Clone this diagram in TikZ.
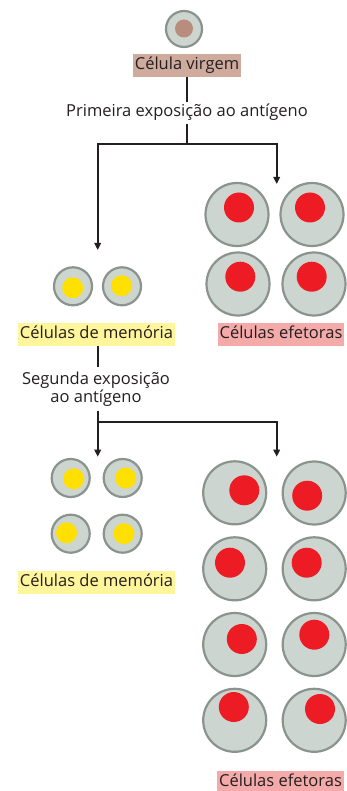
\documentclass[tikz,border=0pt]{standalone}
\usepackage{fontspec}
\setmainfont{Open Sans}
\usetikzlibrary{arrows.meta}
\definecolor{cFill}{HTML}{CDD5D0}
\definecolor{cLine}{HTML}{8A938E}
\definecolor{cRed}{HTML}{ED1C24}
\definecolor{cYel}{HTML}{FFE000}
\definecolor{cBrown}{HTML}{B98D7E}
\definecolor{cVirg}{HTML}{CFAB9D}
\definecolor{cMem}{HTML}{FFF59A}
\definecolor{cEff}{HTML}{F5AAAA}
\definecolor{cInk}{HTML}{231F20}
\begin{document}
\begin{tikzpicture}[x=1pt,y=-1pt,
  cellbody/.style={circle,draw=cLine,line width=2.2pt,fill=cFill,inner sep=0pt},
  bigcell/.style={cellbody,minimum size=63pt},
  smallcell/.style={cellbody,minimum size=38pt},
  topcell/.style={cellbody,minimum size=36pt},
  rednuc/.style={circle,fill=cRed,inner sep=0pt,minimum size=30pt},
  yelnuc/.style={circle,fill=cYel,inner sep=0pt,minimum size=21pt},
  brnuc/.style={circle,fill=cBrown,inner sep=0pt,minimum size=18pt},
  basetxt/.style={font=\fontsize{16.5}{18.3}\selectfont,text=cInk,inner xsep=2pt},
  txt/.style={basetxt,text height=12pt,text depth=4pt,inner ysep=2.5pt},
  lbl/.style={txt,inner xsep=2pt,inner ysep=3.5pt,minimum height=23pt},
  conn/.style={line width=1.9pt,draw=cInk},
  arr/.style={conn,-{Triangle[length=7pt,width=6.5pt]}}
]
\useasboundingbox (0,0) rectangle (347,791);

% top
\node[topcell] (c0) at (184,29) {};
\node[brnuc] (n0) at (184,28.5) {};
\node[lbl,fill=cVirg] (cv) at (187,65.5) {Célula virgem};
\node[txt] (t1) at (187,113) {Primeira exposição ao antígeno};
\coordinate (j1) at (187,144);
\coordinate (a1) at (97.7,250);
\coordinate (a2) at (276.7,184);
\draw[conn] (cv.south) -- (t1.north);
\draw[conn] (t1.south) -- (j1);
\draw[arr] (j1) -| (a1);
\draw[arr] (j1) -| (a2);

% first memory cells
\node[smallcell] (m1) at (73,286.3) {};
\node[yelnuc] at (72.7,287.8) {};
\node[smallcell] (m2) at (122,286.3) {};
\node[yelnuc] at (121.5,285.7) {};
\node[lbl,fill=cMem] (mem1) at (96.5,334.2) {Células de memória};

% first effector cells
\node[bigcell] (e1) at (237,214.5) {};
\node[rednuc] at (239,207.5) {};
\node[bigcell] (e2) at (312,214.5) {};
\node[rednuc] at (310,207.5) {};
\node[bigcell] (e3) at (238,284) {};
\node[rednuc] at (240.3,276.7) {};
\node[bigcell] (e4) at (314,284) {};
\node[rednuc] at (311.7,276.7) {};
\node[lbl,fill=cEff] (eff1) at (281,334.2) {Células efetoras};

% second exposure
\node[basetxt,align=center,minimum height=43pt,inner ysep=0pt] (t2) at (96,389) {Segunda exposição\\ao antígeno};
\coordinate (j2) at (97.7,422);
\coordinate (a3) at (97.7,456.7);
\coordinate (a4) at (276.7,456.7);
\draw[conn] (mem1.south -| j2) -- (t2.north -| j2);
\draw[conn] (t2.south -| j2) -- (j2);
\draw[arr] (j2) -- (a3);
\draw[arr] (j2) -| (a4);

% second memory cells
\node[smallcell] (m3) at (70.7,478) {};
\node[yelnuc] at (73.7,478.8) {};
\node[smallcell] (m4) at (122.7,478) {};
\node[yelnuc] at (125.7,478) {};
\node[smallcell] (m5) at (70.7,533.7) {};
\node[yelnuc] at (66.5,532.8) {};
\node[smallcell] (m6) at (122.7,533.7) {};
\node[yelnuc] at (124,533.7) {};
\node[lbl,fill=cMem] (mem2) at (96.5,582) {Células de memória};

% second effector cells
\node[bigcell] (e5) at (234.7,492.8) {};
\node[rednuc] at (244.3,490.3) {};
\node[bigcell] (e6) at (314.2,493) {};
\node[rednuc] at (307.2,495.7) {};
\node[bigcell] (e7) at (234.7,568.8) {};
\node[rednuc] at (230,562.7) {};
\node[bigcell] (e8) at (314.2,568.8) {};
\node[rednuc] at (306.7,562.7) {};
\node[bigcell] (e9) at (234.7,644.5) {};
\node[rednuc] at (241.8,639) {};
\node[bigcell] (e10) at (314.2,644.5) {};
\node[rednuc] at (314.3,634.7) {};
\node[bigcell] (e11) at (234.7,720.3) {};
\node[rednuc] at (233.8,707) {};
\node[bigcell] (e12) at (314.2,720.3) {};
\node[rednuc] at (320,709) {};
\node[lbl,fill=cEff] (eff2) at (280.5,782.5) {Células efetoras};
\end{tikzpicture}
\end{document}
